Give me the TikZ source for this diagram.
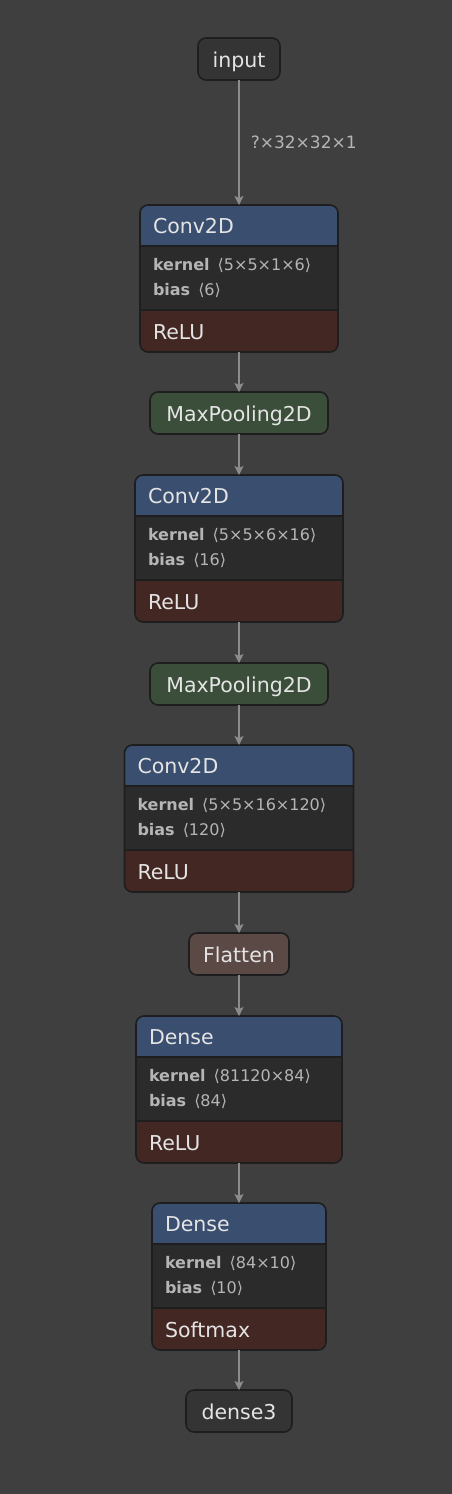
\documentclass[tikz,border=0pt]{standalone}
\usepackage{fontspec}
\setmainfont{DejaVu Sans}
\usetikzlibrary{positioning, backgrounds, arrows.meta}

\definecolor{canvas}{HTML}{3F3F3F}
\definecolor{headblue}{HTML}{3A4F70}
\definecolor{attrgray}{HTML}{2B2B2B}
\definecolor{actred}{HTML}{432723}
\definecolor{poolgreen}{HTML}{3B4E3A}
\definecolor{flatbrown}{HTML}{5B4945}
\definecolor{iofill}{HTML}{343434}
\definecolor{edge}{HTML}{1E1E1E}
\definecolor{wire}{HTML}{8C8C8C}
\definecolor{titletext}{HTML}{E4E4E4}
\definecolor{attrtext}{HTML}{B5B5B5}

\tikzset{
  op/.style={draw=edge, line width=1.6pt, rounded corners=8pt, minimum height=42pt,
    inner sep=0pt, outer sep=0pt, text height=16pt, text depth=0pt,
    text=titletext, font=\fontsize{20.5}{24}\selectfont},
  head/.style={minimum height=41pt, inner xsep=13pt, inner ysep=0pt, outer sep=0pt,
    text height=16pt, text depth=0pt,
    align=left, text=titletext, font=\fontsize{20.5}{24}\selectfont},
  attr/.style={minimum height=64pt, inner xsep=13pt, inner ysep=0pt, outer sep=0pt,
    align=left, text=attrtext, font=\fontsize{16}{25}\selectfont},
  act/.style={head, minimum height=42pt},
  link/.style={draw=wire, line width=1.6pt, -{Stealth[length=9pt,width=9pt,inset=2pt]}},
  shape label/.style={text=attrtext, font=\fontsize{17}{20}\selectfont, inner sep=2pt}
}

\begin{document}
\begin{tikzpicture}[x=1pt, y=1pt]
\useasboundingbox (0,0) rectangle (452,-1494);
\begin{scope}[on background layer]
  \fill[canvas] (0,0) rectangle (452,-1494);
\end{scope}

% input
\node[op, fill=iofill, minimum width=82pt] (input) at (239,-59) {input};

% conv block 1
\node[head, text width=172pt, below=125pt of input] (conv1) {Conv2D};
\node[attr, text width=172pt, below=0pt of conv1] (conv1-attr) {\textbf{kernel}\, ⟨5×5×1×6⟩\\\textbf{bias}\, ⟨6⟩};
\node[act, text width=172pt, below=0pt of conv1-attr] (conv1-act) {ReLU};
\node[op, fill=poolgreen, minimum width=178pt, below=40pt of conv1-act] (pool1) {MaxPooling2D};

% conv block 2
\node[head, text width=182pt, below=41pt of pool1] (conv2) {Conv2D};
\node[attr, text width=182pt, below=0pt of conv2] (conv2-attr) {\textbf{kernel}\, ⟨5×5×6×16⟩\\\textbf{bias}\, ⟨16⟩};
\node[act, text width=182pt, below=0pt of conv2-attr] (conv2-act) {ReLU};
\node[op, fill=poolgreen, minimum width=178pt, below=41pt of conv2-act] (pool2) {MaxPooling2D};

% conv block 3
\node[head, text width=203pt, below=40pt of pool2] (conv3) {Conv2D};
\node[attr, text width=203pt, below=0pt of conv3] (conv3-attr) {\textbf{kernel}\, ⟨5×5×16×120⟩\\\textbf{bias}\, ⟨120⟩};
\node[act, text width=203pt, below=0pt of conv3-attr] (conv3-act) {ReLU};
\node[op, fill=flatbrown, minimum width=100pt, below=41pt of conv3-act] (flatten) {Flatten};

% dense blocks
\node[head, text width=180pt, below=41pt of flatten] (dense1) {Dense};
\node[attr, text width=180pt, below=0pt of dense1] (dense1-attr) {\textbf{kernel}\, ⟨81120×84⟩\\\textbf{bias}\, ⟨84⟩};
\node[act, text width=180pt, below=0pt of dense1-attr] (dense1-act) {ReLU};

\node[head, text width=148pt, below=40pt of dense1-act] (dense2) {Dense};
\node[attr, text width=148pt, below=0pt of dense2] (dense2-attr) {\textbf{kernel}\, ⟨84×10⟩\\\textbf{bias}\, ⟨10⟩};
\node[act, text width=148pt, below=0pt of dense2-attr] (dense2-act) {Softmax};

\node[op, fill=iofill, minimum width=106pt, below=40pt of dense2-act] (dense3) {dense3};

% block fills and frames
\foreach \l in {conv1,conv2,conv3,dense1,dense2} {
  \begin{pgfonlayer}{background}
    \begin{scope}
      \clip[rounded corners=8pt] (\l.north west) rectangle (\l-act.south east);
      \fill[headblue] (\l.north west) rectangle (\l.south east);
      \fill[attrgray] (\l-attr.north west) rectangle (\l-attr.south east);
      \fill[actred] (\l-act.north west) rectangle (\l-act.south east);
    \end{scope}
  \end{pgfonlayer}
  \draw[edge, line width=1.6pt] (\l.south west) -- (\l.south east);
  \draw[edge, line width=1.6pt] (\l-attr.south west) -- (\l-attr.south east);
  \draw[edge, line width=1.6pt, rounded corners=8pt] (\l.north west) rectangle (\l-act.south east);
}

% connectors
\draw[link] (input) -- node[shape label, right=9pt] {?×32×32×1} (conv1);
\draw[link] (conv1-act) -- (pool1);
\draw[link] (pool1) -- (conv2);
\draw[link] (conv2-act) -- (pool2);
\draw[link] (pool2) -- (conv3);
\draw[link] (conv3-act) -- (flatten);
\draw[link] (flatten) -- (dense1);
\draw[link] (dense1-act) -- (dense2);
\draw[link] (dense2-act) -- (dense3);
\end{tikzpicture}
\end{document}
